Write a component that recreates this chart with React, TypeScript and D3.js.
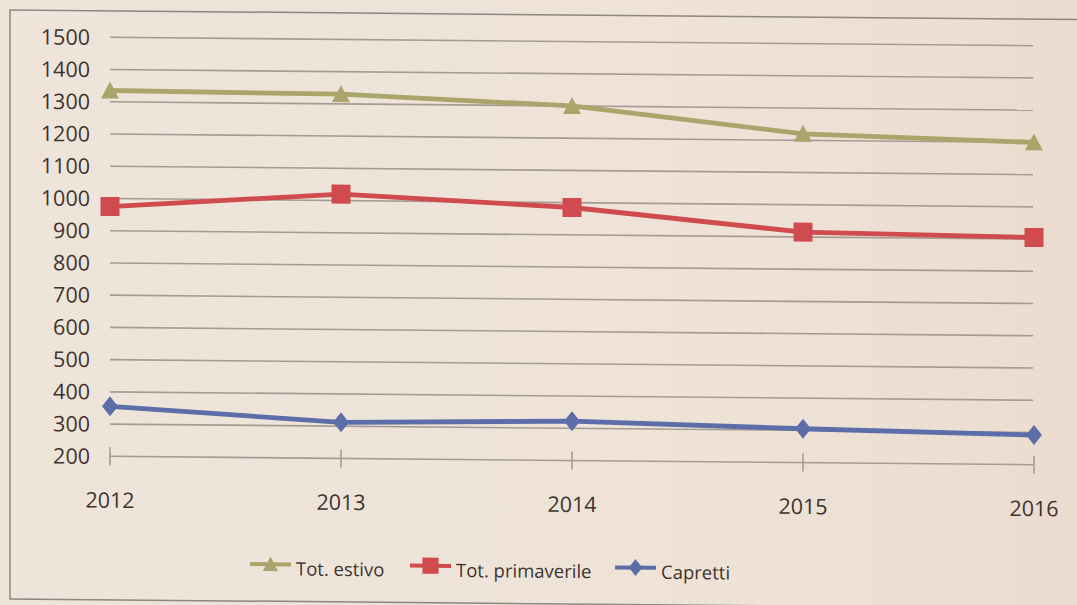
import React from 'react';
import * as d3 from 'd3';

const years = ['2012', '2013', '2014', '2015', '2016'];
const totEstivo = [1335, 1330, 1300, 1220, 1200];
const totPrimaverile = [975, 1020, 985, 915, 905];
const capretti = [355, 312, 322, 305, 292];
const yTickValues = [200, 300, 400, 500, 600, 700, 800, 900, 1000, 1100, 1200, 1300, 1400, 1500];

const seriesNames = ['Tot. estivo', 'Tot. primaverile', 'Capretti'];
const seriesColors = ['#aaa56b', '#cf4b4d', '#5b6ea9'];
const seriesMarkers = ['triangle', 'square', 'diamond'];

const W = 1077;
const H = 605;
const CX = 571;
const textColor = '#3d332f';
const gridColor = '#a69b94';
const font = "'Open Sans', sans-serif";

function markerPath(kind: string): string {
  if (kind === 'triangle') return 'M0,-9 L9,8 L-9,8 Z';
  if (kind === 'square') return 'M-9.5,-9.5 H9.5 V9.5 H-9.5 Z';
  return 'M0,-10 L8,0 L0,10 L-8,0 Z';
}

export default function App() {
  const x = d3.scalePoint<string>().domain(years).range([110, 1034]);
  const y = d3.scaleLinear().domain([200, 1500]).range([460.5, 41.5]);
  const data = [totEstivo, totPrimaverile, capretti];
  const line = d3
    .line<number>()
    .x((_, i) => x(years[i]) as number)
    .y((d) => y(d));

  const legendX = [250, 410, 615];

  return (
    <svg
      width={W}
      height={H}
      style={{ position: 'absolute', left: 0, top: 0, display: 'block' }}
    >
      <defs>
        <linearGradient id="bg" x1="0" y1="0" x2="1" y2="0">
          <stop offset="0" stopColor="#eee4da" />
          <stop offset="0.6" stopColor="#efe3d8" />
          <stop offset="1" stopColor="#ebdccf" />
        </linearGradient>
      </defs>
      <rect x={0} y={0} width={W} height={H} fill="url(#bg)" />
      <g transform={`translate(${CX},0) skewY(0.52) translate(${-CX},0)`}>
        <rect x={10} y={15} width={1100} height={589} fill="none" stroke="#8d8681" strokeWidth={1.5} />
        {yTickValues.map((v) => (
          <g key={v}>
            <line x1={110} x2={1033} y1={y(v)} y2={y(v)} stroke={gridColor} strokeWidth={1.6} />
            <text
              x={90}
              y={y(v)}
              dy="0.36em"
              textAnchor="end"
              fontFamily={font}
              fontSize={21.5}
              fill={textColor}
            >
              {v}
            </text>
          </g>
        ))}
        {years.map((yr) => (
          <g key={yr}>
            <line
              x1={x(yr)}
              x2={x(yr)}
              y1={y(200) - 9}
              y2={y(200) + 9}
              stroke={gridColor}
              strokeWidth={1.6}
            />
            <text
              x={x(yr)}
              y={512}
              textAnchor="middle"
              fontFamily={font}
              fontSize={21.5}
              fill={textColor}
            >
              {yr}
            </text>
          </g>
        ))}
        {data.map((vals, si) => (
          <g key={si}>
            <path
              d={line(vals) || ''}
              fill="none"
              stroke={seriesColors[si]}
              strokeWidth={4.8}
              strokeLinejoin="round"
            />
            {vals.map((v, i) => (
              <path
                key={i}
                d={markerPath(seriesMarkers[si])}
                transform={`translate(${x(years[i])},${y(v)})`}
                fill={seriesColors[si]}
              />
            ))}
          </g>
        ))}
        {seriesNames.map((name, si) => (
          <g key={name} transform={`translate(${legendX[si]},567)`}>
            <line x1={0} x2={41} y1={0} y2={0} stroke={seriesColors[si]} strokeWidth={4} />
            <path d={markerPath(seriesMarkers[si])} transform="translate(20.5,0) scale(0.85)" fill={seriesColors[si]} />
            <text x={46} y={11} fontFamily={font} fontSize={18.5} fill={textColor}>
              {name}
            </text>
          </g>
        ))}
      </g>
    </svg>
  );
}
